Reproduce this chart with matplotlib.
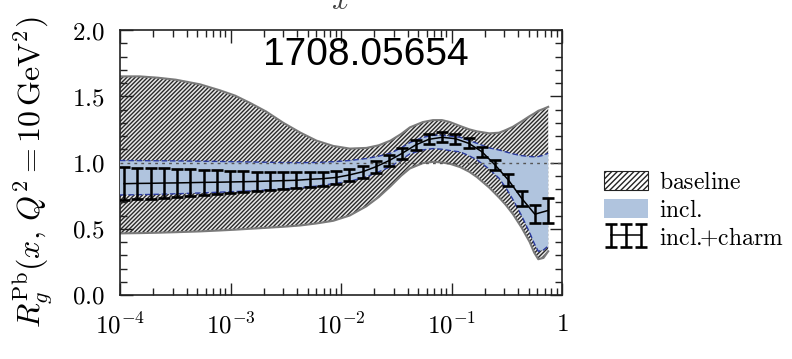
import matplotlib
matplotlib.use("Agg")
import matplotlib.pyplot as plt
from matplotlib.patches import Patch
from matplotlib.ticker import MultipleLocator

plt.rcParams['mathtext.fontset'] = 'cm'
plt.rcParams['font.family'] = ['DejaVu Serif']
plt.rcParams['hatch.linewidth'] = 1.0

# ---- band grid (x) ----
x_band = [1e-4, 1.5e-4, 2.2e-4, 3.2e-4, 5.3e-4, 8.0e-4, 1.1e-3, 1.5e-3, 2.1e-3,
          3.0e-3, 4.3e-3, 6.0e-3, 8.5e-3, 1.2e-2, 1.7e-2, 2.2e-2, 2.8e-2,
          3.5e-2, 4.2e-2, 5.5e-2, 6.8e-2, 8.2e-2, 9.7e-2, 0.12, 0.145, 0.17,
          0.22, 0.27, 0.31, 0.36, 0.43, 0.51, 0.56, 0.61, 0.68, 0.75]
# baseline (hatched) band
base_hi = [1.650, 1.650, 1.640, 1.625, 1.590, 1.545, 1.505, 1.450, 1.385,
           1.300, 1.225, 1.165, 1.125, 1.105, 1.110, 1.130, 1.165,
           1.215, 1.265, 1.305, 1.320, 1.320, 1.305, 1.275, 1.250, 1.235,
           1.220, 1.225, 1.245, 1.270, 1.310, 1.350, 1.370, 1.390, 1.405, 1.420]
base_lo = [0.465, 0.467, 0.470, 0.474, 0.480, 0.487, 0.493, 0.500, 0.507,
           0.515, 0.525, 0.540, 0.560, 0.600, 0.670, 0.740, 0.820,
           0.900, 0.955, 0.995, 1.005, 1.000, 0.990, 0.965, 0.930, 0.890,
           0.810, 0.735, 0.680, 0.610, 0.510, 0.400, 0.320, 0.270, 0.280, 0.330]
# incl. (blue) band
incl_hi = [1.015, 1.014, 1.013, 1.012, 1.010, 1.008, 1.006, 1.004, 1.002,
           1.000, 0.999, 1.000, 1.006, 1.015, 1.030, 1.048, 1.070,
           1.110, 1.150, 1.190, 1.205, 1.205, 1.200, 1.190, 1.165, 1.145,
           1.110, 1.094, 1.080, 1.065, 1.052, 1.045, 1.043, 1.045, 1.055, 1.070]
incl_lo = [0.755, 0.757, 0.760, 0.764, 0.770, 0.776, 0.781, 0.786, 0.792,
           0.800, 0.810, 0.822, 0.840, 0.858, 0.893, 0.930, 0.968,
           1.020, 1.065, 1.095, 1.105, 1.100, 1.090, 1.080, 1.050, 1.020,
           0.950, 0.880, 0.810, 0.720, 0.600, 0.470, 0.390, 0.330, 0.340, 0.370]

# ---- incl.+charm points ----
x_pts = [1.09e-4, 1.43e-4, 1.89e-4, 2.49e-4, 3.28e-4, 4.32e-4, 5.70e-4, 7.51e-4,
         9.89e-4, 1.30e-3, 1.72e-3, 2.27e-3, 2.99e-3, 3.94e-3, 5.19e-3, 6.84e-3,
         9.02e-3, 1.19e-2, 1.57e-2, 2.07e-2, 2.72e-2, 3.59e-2, 4.73e-2, 6.24e-2,
         8.22e-2, 0.108, 0.143, 0.188, 0.248, 0.327, 0.431, 0.568, 0.749]
y_pts = [0.840, 0.842, 0.843, 0.845, 0.846, 0.848, 0.850, 0.851, 0.853, 0.855,
         0.857, 0.860, 0.863, 0.866, 0.873, 0.878, 0.887, 0.906, 0.930, 0.968,
         1.014, 1.070, 1.132, 1.175, 1.190, 1.180, 1.145, 1.082, 0.981, 0.868,
         0.730, 0.610, 0.638]
e_pts = [0.125, 0.120, 0.115, 0.110, 0.105, 0.100, 0.095, 0.090, 0.085, 0.080,
         0.075, 0.070, 0.065, 0.060, 0.055, 0.052, 0.050, 0.048, 0.046, 0.044,
         0.042, 0.040, 0.040, 0.038, 0.038, 0.038, 0.038, 0.038, 0.040, 0.045,
         0.055, 0.070, 0.095]

xticks = [1e-4, 1e-3, 1e-2, 1e-1, 1]
xticklabels = [r'$10^{-4}$', r'$10^{-3}$', r'$10^{-2}$', r'$10^{-1}$', r'$1$']
yticks = [0.0, 0.5, 1.0, 1.5, 2.0]
yticklabels = [r'$0.0$', r'$0.5$', r'$1.0$', r'$1.5$', r'$2.0$']
legend_labels = [r'$\mathrm{baseline}$', r'$\mathrm{incl.}$',
                 r'$\mathrm{incl.}\!\!{+}\mathrm{charm}$']

fig = plt.figure(figsize=(7.92, 3.59), dpi=100)
ax = fig.add_axes([120/792, 1-295/359, 442/792, 265/359])

blue = '#b0c4de'
# baseline hatched band
ax.fill_between(x_band, base_lo, base_hi, facecolor='#e8e8e8', edgecolor='#2a2a2a',
                hatch='////////', linewidth=0, zorder=1)
ax.plot(x_band, base_hi, color='#7a7a7a', lw=1.5, zorder=2)
ax.plot(x_band, base_lo, color='#7a7a7a', lw=1.5, zorder=2)
# incl band
ax.fill_between(x_band, incl_lo, incl_hi, facecolor=blue, edgecolor='none', zorder=3)
ax.plot(x_band, incl_hi, color='#2a3aa0', lw=1.0, ls=(0, (4, 2)), zorder=4)
ax.plot(x_band, incl_lo, color='#2a3aa0', lw=1.0, ls=(0, (4, 2)), zorder=4)
# reference line at 1
ax.axhline(1.0, color='#555555', lw=1.0, ls=(0, (2, 3)), zorder=4)
# incl.+charm
eb = ax.errorbar(x_pts, y_pts, yerr=e_pts, color='black', lw=1.1, elinewidth=1.8,
                 capsize=4.0, capthick=1.9, zorder=6)

ax.set_xscale('log')
ax.set_xlim(1e-4, 1)
ax.set_ylim(0, 2.0)
ax.set_xticks(xticks)
ax.set_xticklabels(xticklabels, fontsize=18)
ax.set_yticks(yticks)
ax.set_yticklabels(yticklabels, fontsize=18)
ax.yaxis.set_minor_locator(MultipleLocator(0.1))
ax.tick_params(which='both', direction='in', top=True, right=True, width=1.0,
               color='#222222')
ax.tick_params(which='major', length=9)
ax.tick_params(which='minor', length=5)
ax.tick_params(axis='y', which='major', pad=11)
ax.tick_params(axis='x', which='major', pad=13)
for s in ax.spines.values():
    s.set_linewidth(1.2)
    s.set_color('#222222')

ax.set_ylabel(r'$R_g^{\mathrm{Pb}}(x,\, Q^2 = 10\,\mathrm{GeV}^2)$', fontsize=23)
ax.yaxis.set_label_coords(33/792, 1-172/359, transform=fig.transFigure)
ax.yaxis.label.set_verticalalignment('center')

fig.text(366/792, 1-55/359, '1708.05654', ha='center', va='center', fontsize=28,
         family='Liberation Sans')
# cropped x labels of neighbouring panels
fig.text(340/792, 1-9/359, r'$x$', ha='center', va='baseline', fontsize=22,
         color='#444444')
fig.text(340/792, 1-352/359, r'$x$', ha='center', va='top', fontsize=22,
         color='#444444')

handles = [Patch(facecolor='white', edgecolor='#222222', hatch='//////', lw=0.8),
           Patch(facecolor=blue, edgecolor='none'),
           eb]
fig.legend(handles, legend_labels, loc='center left',
           bbox_to_anchor=(604/792, 1-210/359), frameon=False,
           prop={'size': 17},
           handlelength=1.85, handleheight=0.85, handletextpad=0.5,
           labelspacing=0.2, numpoints=3, borderpad=0, borderaxespad=0)

fig.savefig('out.png', dpi=100)
